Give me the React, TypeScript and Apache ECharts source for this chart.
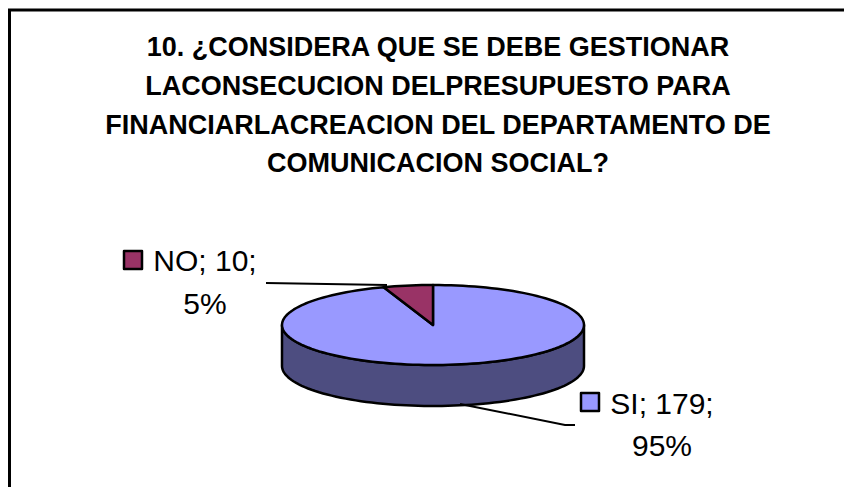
import React, { useEffect, useRef } from "react";
import * as echarts from "echarts";

const categories = ["SI", "NO"];
const values = [179, 10];
const titleLines = [
  "10. ¿CONSIDERA QUE SE DEBE GESTIONAR",
  "LACONSECUCION DELPRESUPUESTO PARA",
  "FINANCIARLACREACION DEL DEPARTAMENTO DE",
  "COMUNICACION SOCIAL?",
];
const topColors = ["#9999ff", "#993366"];
const sideColors = ["#4d4d80", "#4d1a33"];

const CX = 433;
const CY = 325;
const RX = 151;
const RY = 40;
const DEPTH = 41;
const LABEL_FONT = "30px 'Liberation Sans', Arial, sans-serif";

const labelLayout = [
  { keyX: 581, keyY: 393, textX: 662, y1: 403, y2: 445, leader: [[460, 404], [565, 425], [575, 425]] },
  { keyX: 124, keyY: 251, textX: 205, y1: 260, y2: 303, leader: [[266, 283], [387, 285]] },
];

const pt = (a: number, dy = 0): number[] => [CX + RX * Math.sin(a), CY - RY * Math.cos(a) + dy];

function arcPoints(a0: number, a1: number, dy = 0): number[][] {
  const n = Math.max(2, Math.ceil(Math.abs(a1 - a0) / 0.04));
  const out: number[][] = [];
  for (let i = 0; i <= n; i++) out.push(pt(a0 + ((a1 - a0) * i) / n, dy));
  return out;
}

const total = values.reduce((s, v) => s + v, 0);

function renderItem(params: any) {
  const i = params.dataIndex;
  const before = values.slice(0, i).reduce((s, v) => s + v, 0);
  const a0 = (before / total) * Math.PI * 2;
  const a1 = ((before + values[i]) / total) * Math.PI * 2;
  const stroke = { stroke: "#000", lineWidth: 2.5, lineJoin: "round" };
  const children: any[] = [];

  const s0 = Math.max(a0, Math.PI / 2);
  const s1 = Math.min(a1, (Math.PI * 3) / 2);
  if (s1 > s0) {
    const front = arcPoints(s0, s1);
    const back = arcPoints(s1, s0, DEPTH);
    children.push({
      type: "polygon",
      shape: { points: [...front, ...back] },
      style: { fill: sideColors[i], ...stroke },
    });
  }
  children.push({
    type: "polygon",
    shape: { points: [[CX, CY], ...arcPoints(a0, a1)] },
    style: { fill: topColors[i], ...stroke },
  });

  const l = labelLayout[i];
  const pct = Math.round((values[i] / total) * 100);
  children.push(
    { type: "polyline", shape: { points: l.leader }, style: { fill: "none", stroke: "#000", lineWidth: 2 } },
    { type: "rect", shape: { x: l.keyX, y: l.keyY, width: 18, height: 18 }, style: { fill: topColors[i], ...stroke } },
    { type: "text", style: { text: `${categories[i]}; ${values[i]};`, x: l.textX, y: l.y1, align: "center", verticalAlign: "middle", font: LABEL_FONT, fill: "#000" } },
    { type: "text", style: { text: `${pct}%`, x: l.textX, y: l.y2, align: "center", verticalAlign: "middle", font: LABEL_FONT, fill: "#000" } },
  );
  return { type: "group", children };
}

export default function App() {
  const ref = useRef<HTMLDivElement>(null);
  useEffect(() => {
    document.body.style.margin = "0";
    const chart = echarts.init(ref.current!, undefined, { renderer: "svg" });
    chart.setOption({
      animation: false,
      backgroundColor: "#fff",
      title: {
        text: titleLines.join("\n"),
        left: 433,
        top: 23,
        textAlign: "center",
        textStyle: {
          fontFamily: "'Liberation Sans', Arial, sans-serif",
          fontWeight: "bold",
          fontSize: 27,
          lineHeight: 38.7,
          color: "#000",
        },
      },
      graphic: [
        { type: "line", shape: { x1: 9.5, y1: 10, x2: 9.5, y2: 487 }, style: { stroke: "#000", lineWidth: 3 } },
        { type: "line", shape: { x1: 8, y1: 10, x2: 844, y2: 10 }, style: { stroke: "#000", lineWidth: 3 } },
      ],
      series: [
        {
          type: "custom",
          coordinateSystem: "none",
          renderItem,
          data: values.map((value, i) => ({ name: categories[i], value })),
        },
      ],
    });
    return () => chart.dispose();
  }, []);
  return <div ref={ref} style={{ width: 844, height: 487 }} />;
}
